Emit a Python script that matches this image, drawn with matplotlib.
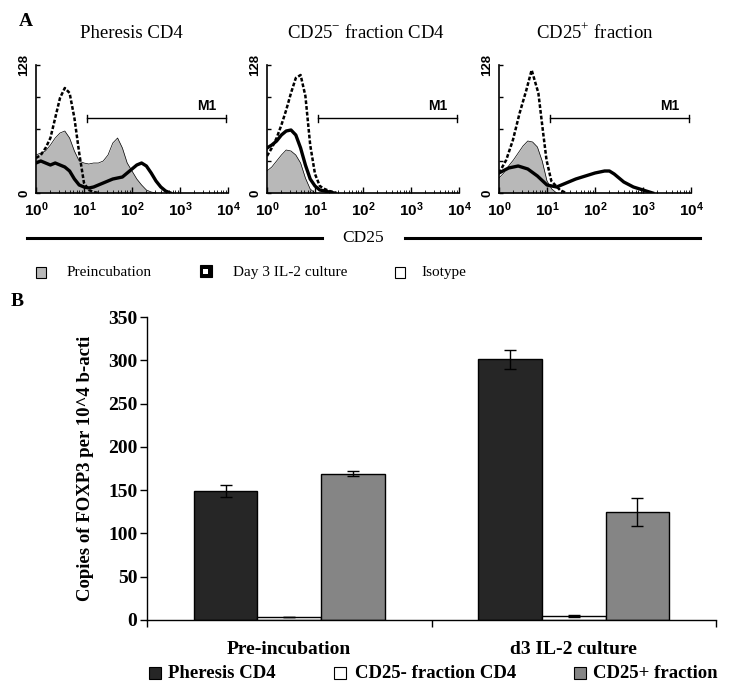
import numpy as np
import matplotlib
matplotlib.use("Agg")
import matplotlib.pyplot as plt
from matplotlib.patches import Rectangle
from matplotlib.ticker import FixedLocator, LogLocator, NullFormatter

plt.rcParams['mathtext.fontset'] = 'custom'
plt.rcParams['mathtext.rm'] = 'Liberation Serif'
plt.rcParams['mathtext.bf'] = 'Liberation Sans:bold'

# ---- panel A: CD25 histograms (log10 of fluorescence, counts 0-128) ----
panel_titles = ["Pheresis CD4", r"CD25$^{-}$ fraction CD4", r"CD25$^{+}$ fraction"]

# Preincubation (grey filled)
pre_log = [
    [0, 0.1, 0.2, 0.3, 0.4, 0.5, 0.6, 0.7, 0.8, 0.9, 1.0, 1.1, 1.2, 1.3, 1.4, 1.5,
     1.6, 1.7, 1.8, 1.9, 2.0, 2.1, 2.2, 2.3, 2.4, 2.5],
    [0, 0.1, 0.2, 0.3, 0.4, 0.5, 0.6, 0.7, 0.8, 0.9, 1.0],
    [0, 0.1, 0.2, 0.3, 0.4, 0.5, 0.6, 0.7, 0.8, 0.9, 1.0, 1.1, 1.2],
]
pre_cnt = [
    [38, 40, 42, 48, 55, 60, 62, 55, 42, 32, 30, 29, 30, 30, 32, 38,
     50, 55, 45, 30, 22, 14, 8, 3, 1, 0],
    [22, 26, 32, 38, 43, 42, 38, 30, 15, 4, 0],
    [15, 20, 27, 33, 40, 47, 52, 51, 46, 32, 12, 4, 0],
]

# Day 3 IL-2 culture (thick black)
d3_log = [
    [0, 0.1, 0.2, 0.3, 0.4, 0.5, 0.6, 0.7, 0.8, 0.9, 1.0, 1.1, 1.2, 1.3, 1.4, 1.5,
     1.6, 1.7, 1.8, 1.9, 2.0, 2.1, 2.2, 2.3, 2.4, 2.5, 2.6, 2.7, 2.8],
    [0, 0.1, 0.2, 0.3, 0.4, 0.5, 0.6, 0.7, 0.8, 0.9, 1.0, 1.1, 1.2, 1.3, 1.4],
    [0, 0.2, 0.4, 0.6, 0.8, 1.0, 1.2, 1.4, 1.6, 1.8, 2.0, 2.2, 2.3, 2.4, 2.6,
     2.8, 3.0, 3.2],
]
d3_cnt = [
    [30, 32, 30, 28, 30, 28, 26, 22, 14, 8, 6, 5, 6, 8, 10, 12,
     14, 15, 16, 20, 24, 28, 30, 27, 20, 12, 6, 2, 0],
    [45, 48, 52, 58, 62, 63, 58, 45, 28, 14, 7, 3, 2, 1, 0],
    [20, 25, 27, 24, 17, 8, 6, 10, 14, 17, 20, 22, 22, 19, 11, 6, 3, 0],
]

# Isotype (dotted outline)
iso_log = [
    [0, 0.1, 0.2, 0.3, 0.4, 0.5, 0.6, 0.7, 0.8, 0.9, 1.0, 1.1, 1.2, 1.3],
    [0, 0.1, 0.2, 0.3, 0.4, 0.5, 0.6, 0.7, 0.8, 0.9, 1.0, 1.1, 1.2, 1.3, 1.45],
    [0, 0.15, 0.29, 0.43, 0.57, 0.68, 0.82, 0.92, 0.99, 1.09, 1.27, 1.4],
]
iso_cnt = [
    [35, 38, 45, 55, 75, 95, 105, 100, 75, 40, 10, 3, 1, 0],
    [37, 45, 55, 68, 83, 100, 115, 118, 97, 48, 19, 7, 4, 2, 0],
    [20, 33, 53, 80, 103, 123, 100, 60, 33, 12, 3, 0],
]

m1_start, m1_end, m1_level = 11.7, 9300, 75

# ---- panel B: FOXP3 copies ----
groups = ["Pre-incubation", "d3 IL-2 culture"]
series = ["Pheresis CD4", "CD25- fraction CD4", "CD25+ fraction"]
values = [[149, 4, 169], [301, 5, 125]]
errors = [[7, 0, 3], [11, 1, 16]]
bar_colors = ["#262626", "white", "#858585"]

W, H = 733, 695
fig = plt.figure(figsize=(W / 100, H / 100), dpi=100)


def px_axes(l, t, r, b):
    return fig.add_axes([l / W, 1 - b / H, (r - l) / W, (b - t) / H])


def ftext(x, y, s, **kw):
    fig.text(x / W, 1 - y / H, s, **kw)


serif = 'Liberation Serif'
sans = 'Liberation Sans'

hist_left = [36, 267, 499]
title_x = [131, 366, 595]
for i in range(3):
    ax = px_axes(hist_left[i], 65, hist_left[i] + 192, 193)
    x_pre = 10 ** np.array(pre_log[i])
    ax.fill_between(x_pre, 0, pre_cnt[i], color='#b8b8b8', lw=0, zorder=1)
    ax.plot(x_pre, pre_cnt[i], color='black', lw=0.5, zorder=2)
    ax.plot(10 ** np.array(iso_log[i]), iso_cnt[i], color='black', lw=1.8,
            ls=(0, (1.5, 0.8)), zorder=3)
    ax.plot(10 ** np.array(d3_log[i]), d3_cnt[i], color='black', lw=2.4, zorder=4)
    ax.plot([m1_start, m1_end], [m1_level, m1_level], color='black', lw=1)
    for xe in (m1_start, m1_end):
        ax.plot([xe, xe], [m1_level - 3.5, m1_level + 3.5], color='black', lw=1)
    ax.text(m1_end * 0.62, m1_level + 5, "M1", ha='right', va='bottom',
            fontsize=10, fontweight='bold', family=sans)
    ax.set_xscale('log')
    ax.set_xlim(1, 1e4)
    ax.set_ylim(0, 128)
    for s in ['top', 'right']:
        ax.spines[s].set_visible(False)
    for s in ['left', 'bottom']:
        ax.spines[s].set_linewidth(1.2)
    ax.xaxis.set_major_locator(FixedLocator([1, 10, 100, 1000, 10000]))
    ax.xaxis.set_minor_locator(LogLocator(base=10, subs=np.arange(2, 10), numticks=20))
    ax.xaxis.set_minor_formatter(NullFormatter())
    ax.set_xticklabels([r'$\mathbf{10^{%d}}$' % k for k in range(5)])
    ax.tick_params(axis='x', which='major', direction='in', length=4, width=1,
                   labelsize=11, pad=5)
    ax.tick_params(axis='x', which='minor', direction='in', length=2, width=0.6)
    ax.set_yticks([0, 32, 64, 96, 128])
    ax.set_yticklabels(['0', '', '', '', '128'], rotation=90, va='center',
                       fontsize=9.5, fontweight='bold', family=sans)
    ax.tick_params(axis='y', direction='in', length=3, width=1, pad=4)
    ftext(title_x[i], 33, panel_titles[i], ha='center', va='center',
          fontsize=13.5, family=serif)

# overlay for decorations
ov = fig.add_axes([0, 0, 1, 1], zorder=-1)
ov.set_xlim(0, W)
ov.set_ylim(H, 0)
ov.axis('off')

ftext(26, 22, "A", ha='center', va='center', fontsize=14, fontweight='bold', family=serif)
ftext(17, 302, "B", ha='center', va='center', fontsize=14, fontweight='bold', family=serif)

ov.plot([27, 322], [238, 238], color='black', lw=2.2)
ov.plot([405, 700], [238, 238], color='black', lw=2.2)
ftext(363, 238, "CD25", ha='center', va='center', fontsize=12.5, family=serif)

# legend A
ov.add_patch(Rectangle((36, 266.5), 10, 11, facecolor='#b8b8b8', edgecolor='black', lw=0.8))
ov.add_patch(Rectangle((199.5, 265), 12, 12, facecolor='black', edgecolor='black', lw=0.8))
ov.add_patch(Rectangle((203, 268.5), 5, 5, facecolor='white', lw=0))
ov.add_patch(Rectangle((395, 266.5), 10, 11, facecolor='white', edgecolor='black', lw=0.8))
ftext(67, 272, "Preincubation", ha='left', va='center', fontsize=11, family=serif)
ftext(233, 272, "Day 3 IL-2 culture", ha='left', va='center', fontsize=11, family=serif)
ftext(421, 272, "Isotype", ha='left', va='center', fontsize=11, family=serif)

# ---- bar chart ----
axb = px_axes(147, 317, 716, 620)
w = 0.224
xg = np.arange(len(groups))
for j in range(len(series)):
    vals = [values[g][j] for g in range(len(groups))]
    errs = [errors[g][j] for g in range(len(groups))]
    axb.bar(xg + (j - 1) * w, vals, width=w, color=bar_colors[j], edgecolor='black',
            lw=1, yerr=errs, capsize=4,
            error_kw=dict(ecolor='black', elinewidth=1, capthick=1))
axb.set_xlim(-0.5, 1.5)
axb.set_ylim(0, 350)
axb.set_yticks(range(0, 351, 50))
for s in ['top', 'right']:
    axb.spines[s].set_visible(False)
axb.spines['left'].set_linewidth(1)
axb.spines['bottom'].set_linewidth(1)
axb.set_xticks(xg)
axb.set_xticklabels(groups, fontsize=14, fontweight='bold', family=serif)
axb.tick_params(axis='x', which='major', length=0, pad=15)
axb.set_xticks([-0.5, 0.5, 1.5], minor=True)
axb.tick_params(axis='x', which='minor', direction='out', length=5, width=1)
axb.tick_params(axis='y', direction='out', length=5, width=1, pad=2)
for lab in axb.get_yticklabels():
    lab.set_fontsize(14)
    lab.set_fontweight('bold')
    lab.set_family(serif)
ftext(86, 468, "Copies of FOXP3 per 10^4 b-acti", rotation=90, ha='center', va='center',
      fontsize=13.5, fontweight='bold', family=serif)

# legend B
leg_sq_x = [149, 334, 574]
leg_tx_x = [168, 355, 593]
for j in range(len(series)):
    ov.add_patch(Rectangle((leg_sq_x[j], 666.5), 12, 12, facecolor=bar_colors[j],
                           edgecolor='black', lw=0.8))
    ftext(leg_tx_x[j], 673, series[j], ha='left', va='center', fontsize=13.5,
          fontweight='bold', family=serif)

fig.savefig("out.png", dpi=100)
